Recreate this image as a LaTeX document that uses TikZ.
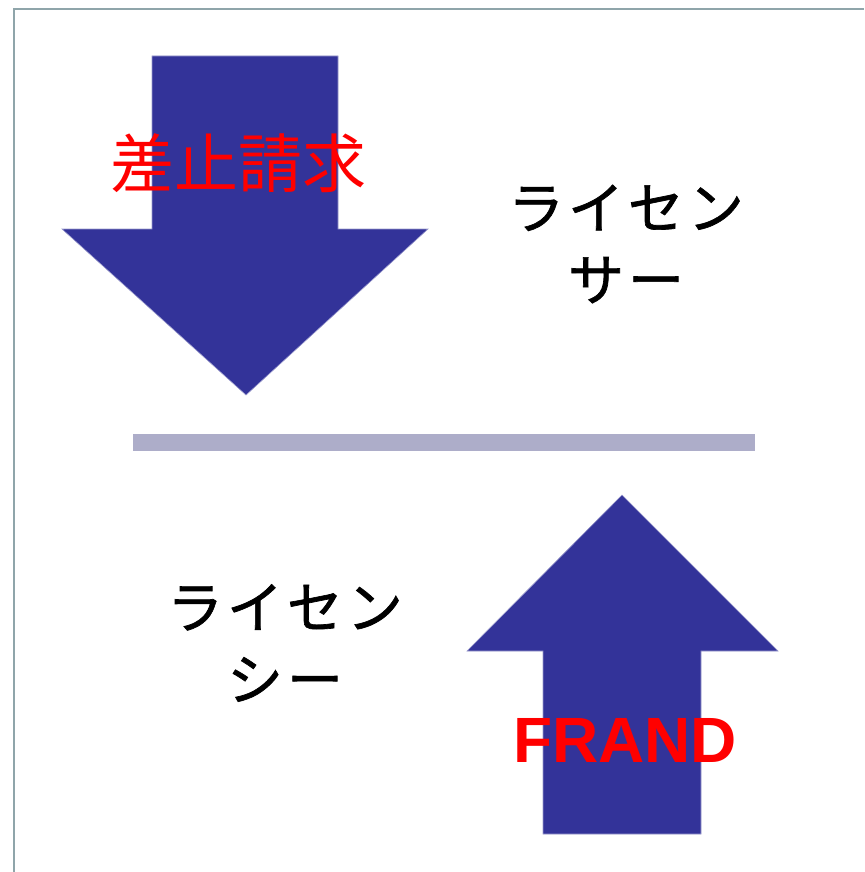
\documentclass[tikz,border=0pt]{standalone}
\usepackage{fontspec}
\newfontfamily\jpfont{Noto Sans CJK JP}
\newfontfamily\jpspaced[LetterSpace=7, FakeBold=1.2]{Noto Sans CJK JP}
\newfontfamily\latinfont{Liberation Sans}
\definecolor{arrowblue}{HTML}{333399}
\definecolor{arrowedge}{HTML}{9999CC}
\definecolor{barcolor}{HTML}{ADADC9}
\definecolor{framecolor}{HTML}{8FA5AA}

\begin{document}
\begin{tikzpicture}[x=1pt, y=-1pt,
  bigarrow/.style={fill=arrowblue, draw=arrowedge, line width=0.6pt},
  redlabel/.style={text=red, inner sep=0pt},
  party/.style={align=center, inner sep=0pt, font=\jpspaced\fontsize{56}{72}\selectfont}]
\useasboundingbox (0,0) rectangle (864,872);
\fill[white] (0,0) rectangle (864,872);
% frame
\draw[framecolor, line width=2.6pt] (14,872) -- (14,9) -- (864,9);

% arrow down (licensor)
\draw[bigarrow] (152,56) -- (338,56) -- (338,229) -- (428,229) -- (246,395)
  -- (62,229) -- (152,229) -- cycle;
% arrow up (licensee)
\draw[bigarrow] (543,834) -- (701,834) -- (701,651) -- (778,651) -- (622,495)
  -- (467,651) -- (543,651) -- cycle;

% dividing bar
\fill[barcolor] (133,434) rectangle (755,451);

\node[redlabel, font=\jpfont\fontsize{64}{64}\selectfont] (claim) at (238,163) {差止請求};
\node[redlabel, font=\latinfont\bfseries\fontsize{64}{64}\selectfont] (frand) at (625,740) {FRAND};

\node[party] (licensor) at (626,244) {ライセン\\サー};
\node[party] (licensee) at (285,643) {ライセン\\シー};
\end{tikzpicture}
\end{document}
